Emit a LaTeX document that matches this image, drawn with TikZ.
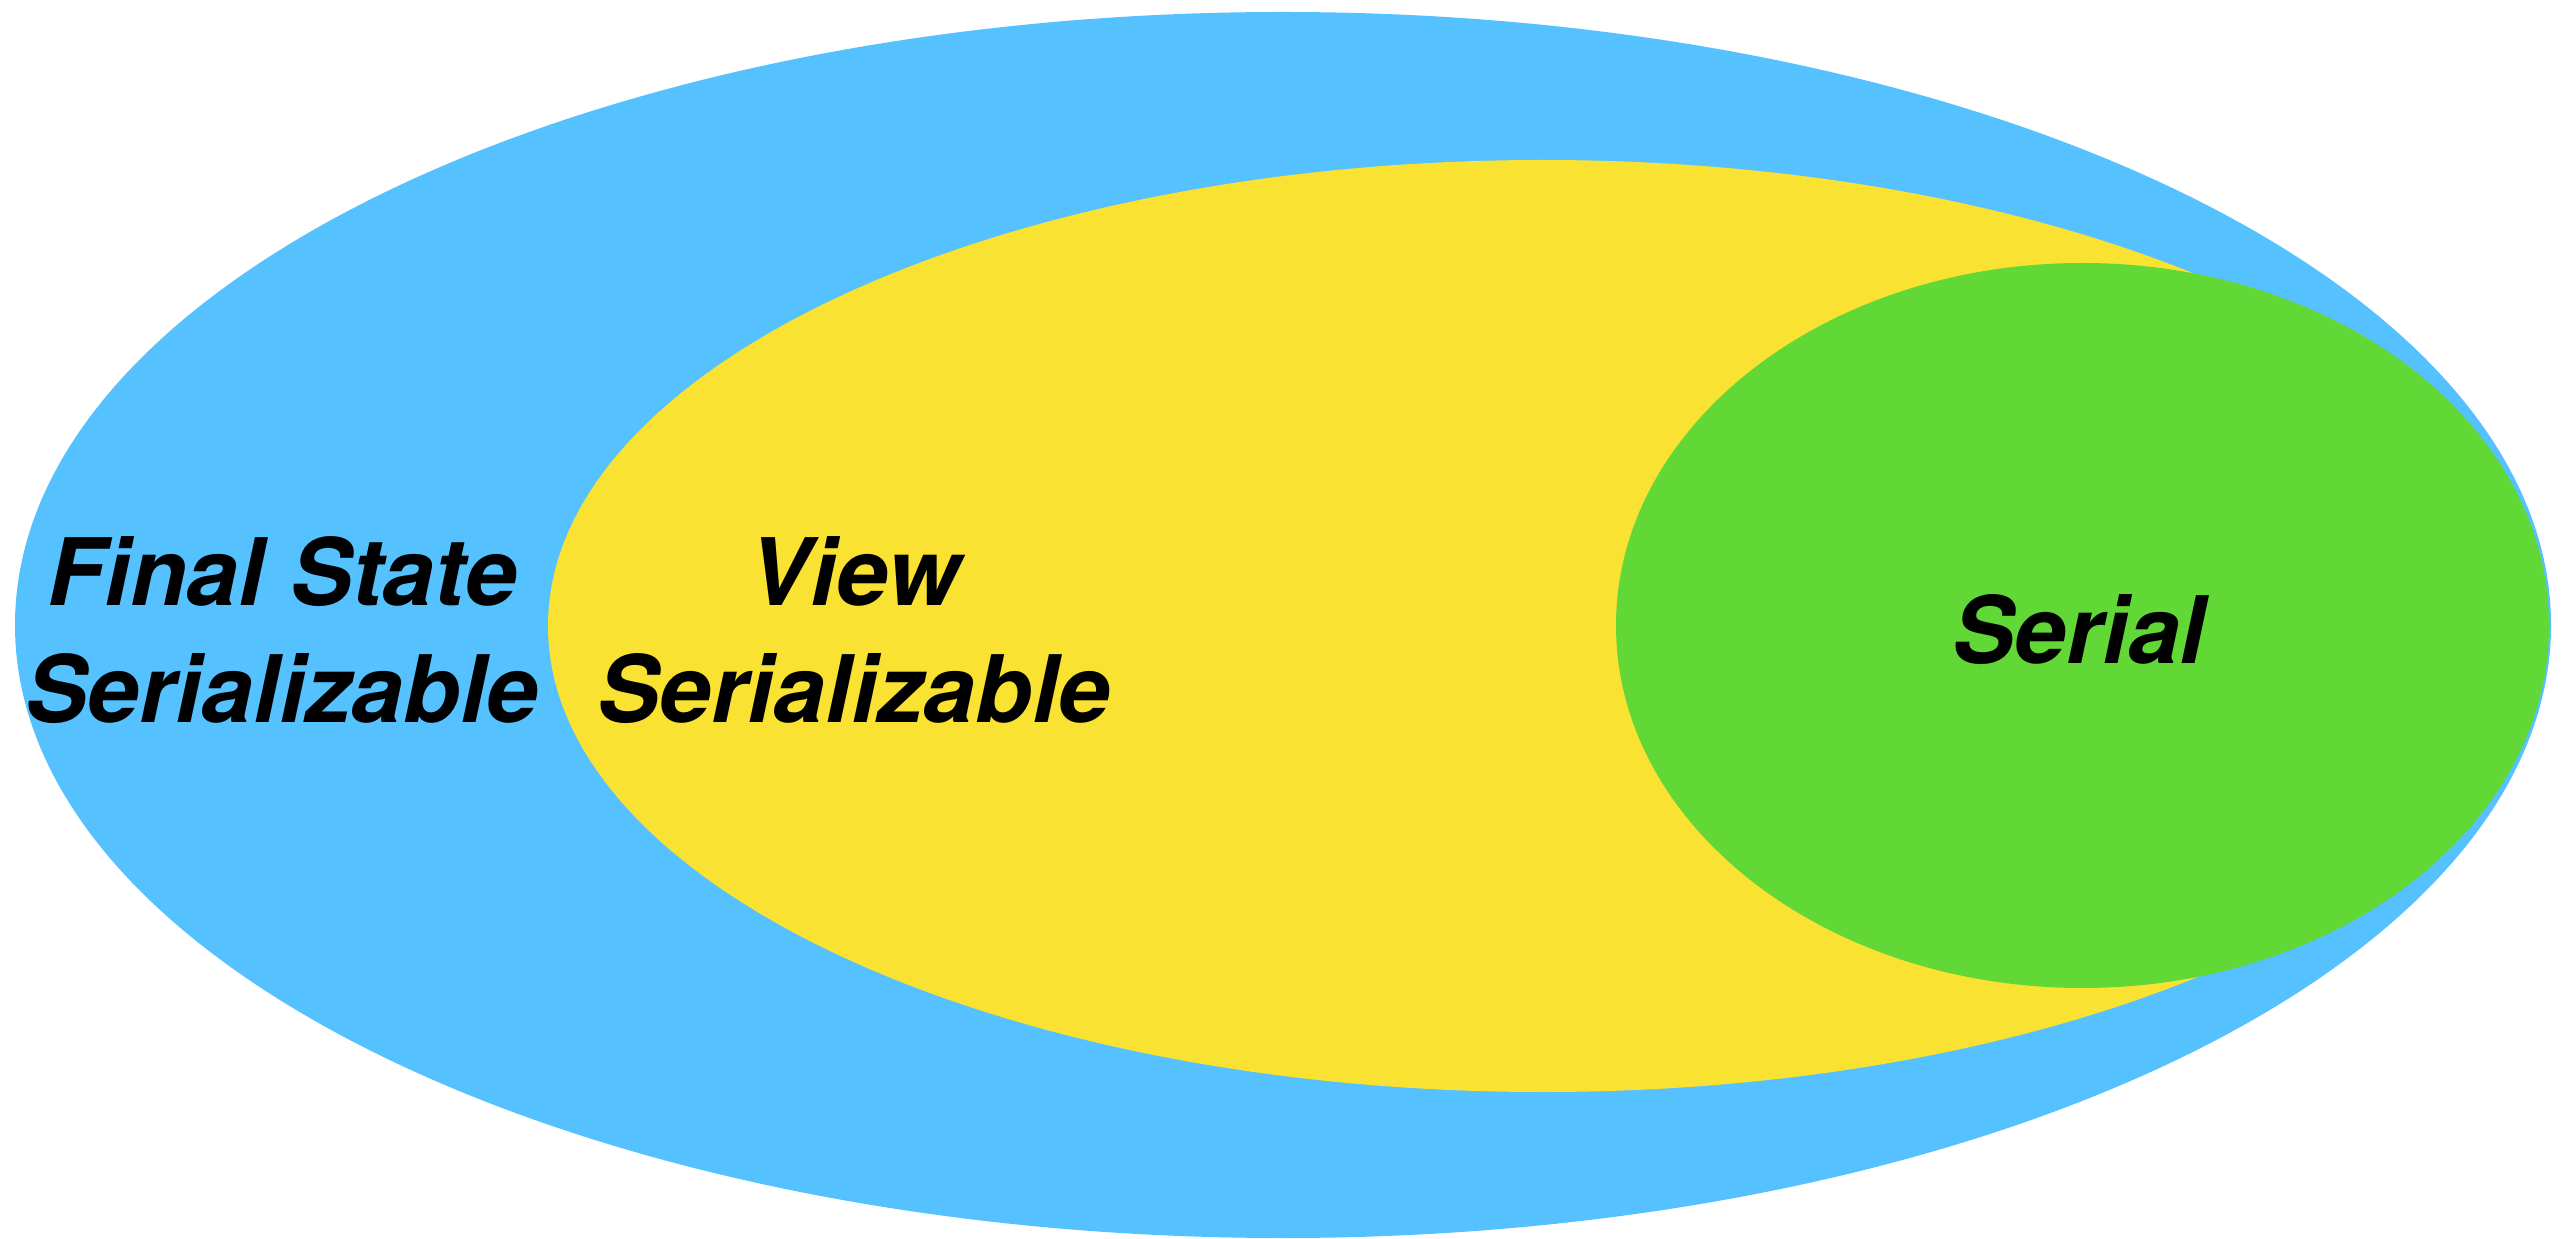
\documentclass[tikz,border=0pt]{standalone}
\usepackage{fontspec}
\setmainfont{TeX Gyre Heros}
\usepackage{xcolor}
\usepackage{tikz}
\definecolor{fsblue}{HTML}{56C1FF}
\definecolor{vsyellow}{HTML}{FAE232}
\definecolor{sgreen}{HTML}{61D836}

\begin{document}
\begin{tikzpicture}[line join=round,
    setlabel/.style={inner sep=0pt, align=center,
      font=\fontsize{26.5}{33.3}\selectfont\bfseries\itshape}]
  \useasboundingbox (0,0) rectangle (25.66,12.38);
  \begin{scope}
    \clip (0,0) rectangle (25.66,12.38);
    \coordinate (FS) at (12.830,6.130);
    \coordinate (VS) at (15.430,6.120);
    \coordinate (S) at (20.825,6.125);
    \fill[fsblue] (FS) ellipse [x radius=12.68, y radius=6.13];
    \fill[vsyellow] (VS) ellipse [x radius=9.95, y radius=4.66];
    \fill[sgreen] (S) ellipse [x radius=4.665, y radius=3.625];
  \end{scope}
  \node[setlabel] (fslabel) at (2.82,6.08) {Final State\\Serializable};
  \node[setlabel] (vslabel) at (8.54,6.08) {View\\Serializable};
  \node[setlabel] (slabel) at (20.79,6.08) {Serial};
\end{tikzpicture}
\end{document}
